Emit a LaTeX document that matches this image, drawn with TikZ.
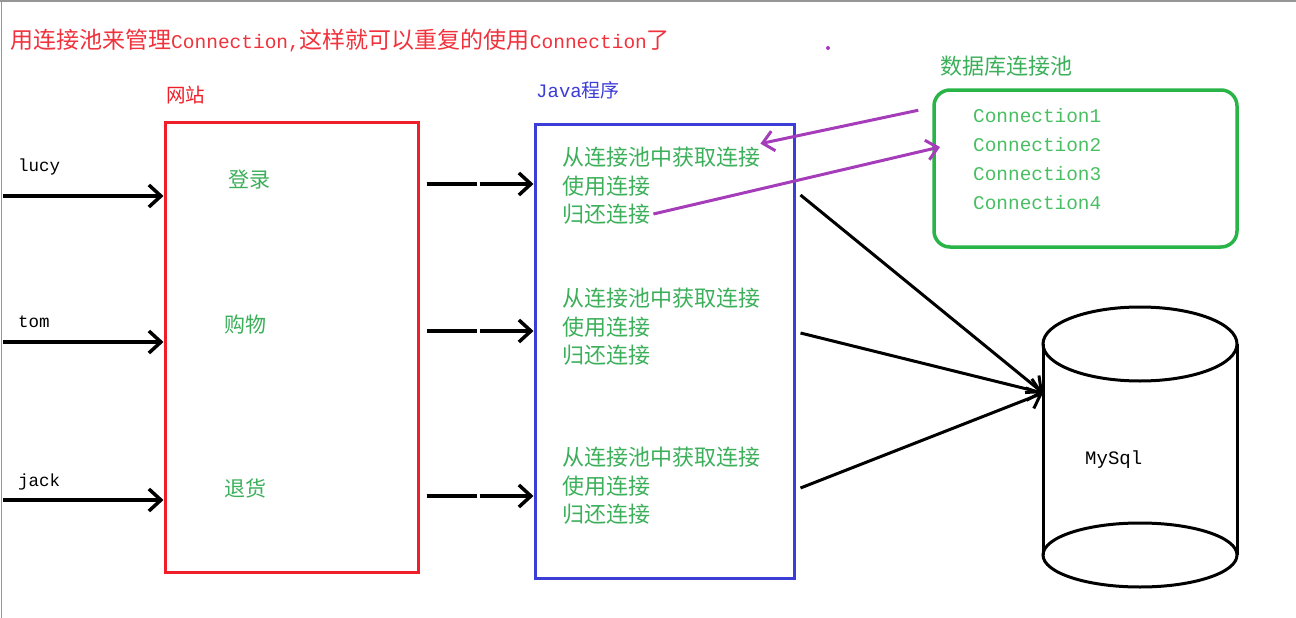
\documentclass[tikz,border=0pt]{standalone}
\usepackage{fontspec}
\setmonofont{Liberation Mono}
\newfontfamily\cjk{Noto Sans CJK SC}
\usetikzlibrary{arrows.meta, positioning, calc}
\definecolor{sitered}{RGB}{240, 30, 40}
\definecolor{titlered}{RGB}{240, 50, 60}
\definecolor{javablue}{RGB}{60, 60, 215}
\definecolor{poolgreen}{RGB}{40, 180, 70}
\definecolor{textgreen}{RGB}{60, 175, 90}
\definecolor{linkpurple}{RGB}{165, 60, 185}
\definecolor{edgegray}{RGB}{150, 150, 150}
\newcommand{\zhbig}[1]{{\fontsize{23pt}{26pt}\selectfont\cjk #1}}

\begin{document}
\begin{tikzpicture}[
  x=1pt, y=-1pt,
  every node/.style={inner sep=0pt},
  frame/.style={draw, line width=3pt},
  sitebox/.style={frame, draw=sitered, minimum width=253pt, minimum height=450pt},
  javabox/.style={frame, draw=javablue, minimum width=259pt, minimum height=454pt},
  poolbox/.style={frame, draw=poolgreen, line width=3.5pt, rounded corners=16pt,
    minimum width=303pt, minimum height=157pt},
  zhtext/.style={font=\fontsize{#1}{#1}\selectfont\cjk},
  steptext/.style={zhtext=22pt, text=textgreen, anchor=west},
  monotext/.style={font=\fontsize{#1}{#1}\selectfont\ttfamily, anchor=west},
  connlabel/.style={monotext=19.4pt, text=poolgreen!85!white},
  userlabel/.style={monotext=17.5pt, text=black},
  barrow/.style={-{Straight Barb[length=12pt, width=22pt]}, line width=3.5pt},
  parrow/.style={-{Straight Barb[length=11pt, width=20pt]}, line width=3pt, draw=linkpurple},
  dbline/.style={line width=3pt}
]
\useasboundingbox (0,0) rectangle (1296,618);
\draw[edgegray, line width=1.5pt] (0,1) -- (1296,1);
\draw[edgegray, line width=1.5pt] (1.5,0) -- (1.5,618);

% Title
\node[monotext=19.5pt, text=titlered] (title) at (10,40)
  {\zhbig{用连接池来管理}Connection,\zhbig{这样就可以重复的使用}Connection\zhbig{了}};

% Boxes
\node[sitebox] (site) at (291.5,347) {};
\node[zhtext=19.5pt, text=sitered, anchor=west] (sitename) at (166,95) {网站};
\node[javabox] (java) at (664.5,351) {};
\node[monotext=19pt, text=javablue] (javaname) at (536,90) {Java{\cjk 程序}};
\node[poolbox] (pool) at (1085.5,168.5) {};
\node[zhtext=22pt, text=textgreen, anchor=west] (poolname) at (940,66) {数据库连接池};

% Connections in the pool
\foreach \i/\y in {1/116, 2/145, 3/174, 4/203}
  \node[connlabel] (conn\i) at (973,\y) {Connection\i};

% Users
\foreach \n/\y/\ly in {lucy/196/167, tom/342/322, jack/500/482} {
  \coordinate (u\n) at (3,\y);
  \node[userlabel] (l\n) at (18,\ly) {\n};
  \draw[barrow] (u\n) -- (u\n -| site.west);
}

% Pages of the site
\node[zhtext=21pt, text=textgreen] (login) at (249,180) {登录};
\node[zhtext=21pt, text=textgreen] (shop) at (245,325) {购物};
\node[zhtext=21pt, text=textgreen] (refund) at (245,488) {退货};

% Site to program
\foreach \y in {184, 331, 496}
  \draw[barrow, dash pattern=on 50pt off 3pt on 300pt]
    ($(site.east |- 0,\y)+(7,0)$) -- (java.west |- 0,\y);

% Steps in the program
\foreach \n/\y in {a/157, b/298, c/457} {
  \node[steptext] (get\n) at (562,\y) {从连接池中获取连接};
  \node[steptext] (use\n) at (562,\y+29) {使用连接};
  \node[steptext] (ret\n) at (562,\y+57) {归还连接};
}

% Database
\draw[dbline] (1140,344) ellipse [x radius=97pt, y radius=37pt];
\draw[dbline] (1140,555) ellipse [x radius=97pt, y radius=32pt];
\draw[dbline] (1043,344) -- (1043,555) (1237,344) -- (1237,555);
\node[monotext=19pt, text=black] (mysql) at (1085,460) {MySql};
\coordinate (dbin) at (1043,393);

% Program to database
\foreach \y in {195, 333, 488}
  \draw[barrow, line width=3pt] ($(java.east |- 0,\y)+(5,0)$) -- (dbin);

% Taking and giving back a connection
\coordinate (pout) at ($(pool.north west)+(-14,22)$);
\draw[parrow] (pout) -- ($(geta.north east)+(0,-3)$);
\draw[parrow] ($(reta.east)+(3,0)$) -- ($(conn2.west)+(-33,2)$);
\fill[linkpurple] (828,48) circle (2pt);

\end{tikzpicture}
\end{document}
